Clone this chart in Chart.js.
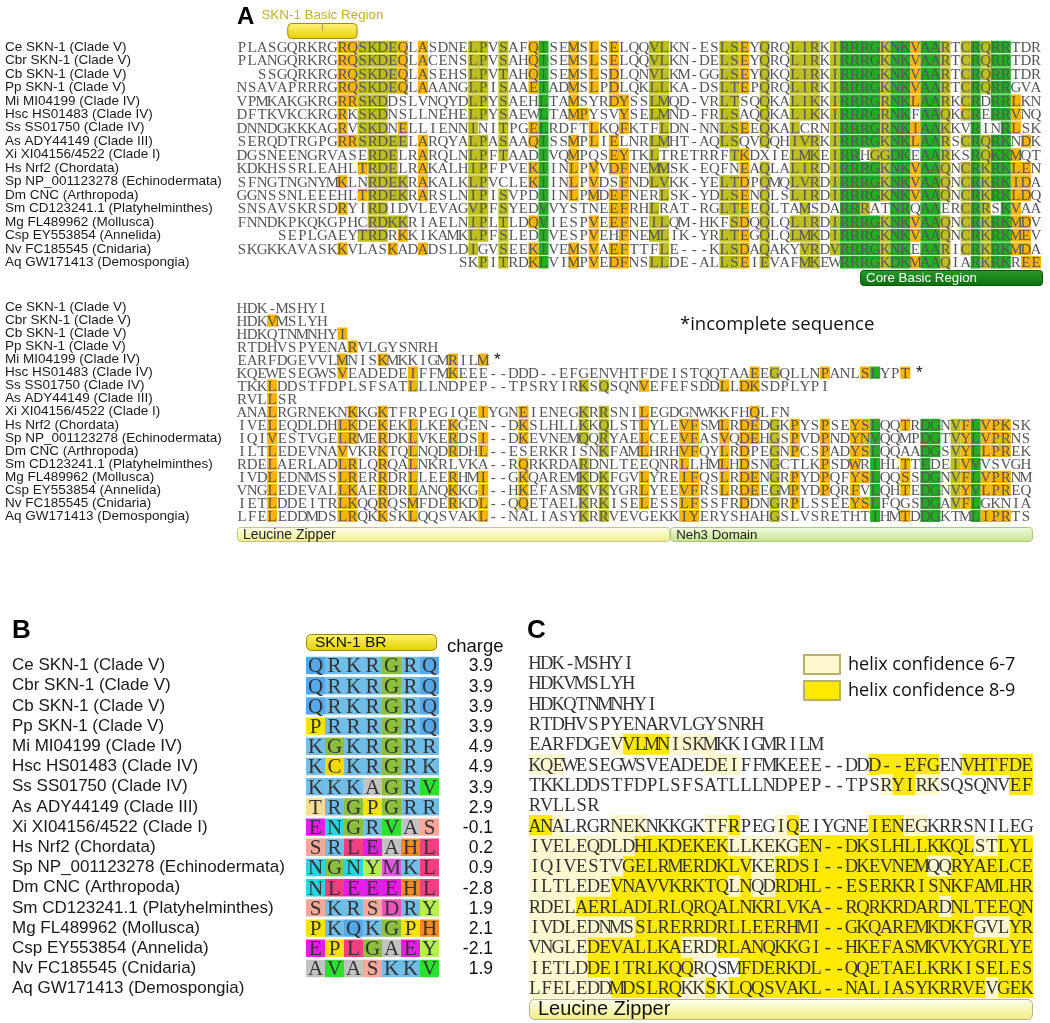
<!DOCTYPE html>
<html>
<head>
<meta charset="utf-8">
<title>SKN-1 / CNC basic region alignment</title>
<script src="https://cdn.jsdelivr.net/npm/chart.js@4.4.1/dist/chart.umd.min.js"></script>
<style>
  html, body { margin: 0; padding: 0; background: #fff; }
  body { position: relative; width: 1050px; height: 1023px; overflow: hidden; }
  canvas { position: absolute; }
</style>
</head>
<body>
<canvas id="alignTop" width="1050" height="290" style="left:0;top:0"></canvas>
<canvas id="alignBottom" width="1050" height="262" style="left:0;top:290px"></canvas>
<canvas id="basicRegion" width="520" height="420" style="left:0;top:600px"></canvas>
<canvas id="helix" width="525" height="423" style="left:525px;top:600px"></canvas>
<script>
// ---------- data ----------
const species = [
  'Ce SKN-1 (Clade V)', 'Cbr SKN-1 (Clade V)', 'Cb SKN-1 (Clade V)', 'Pp SKN-1 (Clade V)',
  'Mi MI04199 (Clade IV)', 'Hsc HS01483 (Clade IV)', 'Ss SS01750 (Clade IV)', 'As ADY44149 (Clade III)',
  'Xi XI04156/4522 (Clade I)', 'Hs Nrf2 (Chordata)', 'Sp NP_001123278 (Echinodermata)', 'Dm CNC (Arthropoda)',
  'Sm CD123241.1 (Platyhelminthes)', 'Mg FL489962 (Mollusca)', 'Csp EY553854 (Annelida)', 'Nv FC185545 (Cnidaria)',
  'Aq GW171413 (Demospongia)'
];

const seqTop = [
  'PLASGQRKRGRQSKDEQLASDNELPVSAFQISEMSLSELQQVLKN-ESLSEYQRQLIRKIRRRGKNKVAARTCRQRRTDR',
  'PLANGQRKRGRQSKDEQLACENSLPVSAHQISEMSLSELQQVLKN-DELSEYQRQLIRKIRRRGKNKVAARTCRQRRTDR',
  '  SSGQRKRGRQSKDEQLASEHSLPVTAHQISEMSLSDLQNVLKM-GGLSEYQKQLIRKIRRRGKNKVAARTCRQRRTDR',
  'NSAVAPRRRGRQSKDEQLAAANGLPISAAEIADMSLPDLQKLLKA-DSLTEPQRQLIRKIRRRGKNKVAARTCRQRRGVA',
  'VPMKAKGKRGRRSKDDSLVNQYDLPYSAEHLTAMSYRDYSSLMQD-VRLTSQQKALIKKIRRRGRNKLAARKCRDRRLKN',
  'DFTKVKCKRGRKSKDNSLLNEHELPYSAEWLTAMPYSVYSELMND-FRLSAQQKALIKKIRRRGRNKFAAQKCRERRVNQ',
  'DNNDGKKKAGRVSKDNELLIENNINITPGELRDFTLKQFKTFLDN-NNLSEEQKALCRNIRRRGRNKIAAKKVRINRLSK',
  'SERQDTRGPGRRSRDEELARQYALPASAAQISSMPLIELNRLMHT-AQLSQVQQHIVRKIRRRGKNKLAARSCRQRKNDK',
  'DGSNEENGRVASERDELRARQLNLPFTAADIVQMPQSEYTKLTRETRRFTKDXIELMKEIRRHGGDKEAARKSRQKKMQT',
  'KDKHSSRLEAHLTRDELRAKALHIPFPVEKIINLPVVDFNEMMSK-EQFNEAQLALIRDIRRRGKNKVAAQNCRKRKLEN',
  'SFNGTNGNYMKLNRDEKRAKALKLPVCLEKIINLPVDSFNDLVKK-YELTDPQMQLVRDIRRRGKNKVAAQNCRKRKIDA',
  'GGNSSNLEEEHLTRDEKRARSLNIPISVPDIINLPMDEFNERLSK-YDLSENQLSLIRDIRRRGKNKVAAQNCRKRKLDQ',
  'SNSAVSKRSDRYIRDIDVLEVAGVPFSYEDVVYSTNEEFRHLRAT-RGLTEEQLTAMSDARRRATNRQAAERCRRSKVAA',
  'FNNDKPKQKGPHCRDKKRIAELNIPLTLDQVIESPVEEFNEILQM-HKFSDQQLQLIRDIRRRGKNKVAAQNCRKRKMDV',
  '    SEPLGAEYTRDRKKIKAMKLPFSLEDIVESPVEHFNEMLIK-YRLTEGQLQLMKDIRRRGKNKVAAQNCRKRKMEV',
  'SKGKKAVASKKVLASKADADSLDIGVSEEKIVEMSVAEFTTFLE---KLSDAQAKYVRDVRRRGKNKEAARICRKRKMDA',
  '                      SKPITRDKLVIMPVEDFNSLLDE-ALLSEIEVAFMKEWRRRGKDKMAAQIARKRKREE'
];

// highlight runs: column[-column] + class (o = similar, y = conserved, g = identical)
const marksTop = [
  '10-11o 12-15y 16o 18o 23-24y 26y 29o 30g 33o 35o 37o 41-42y 48-49y 50o 52y 55-57y 59y 60-63g 64y 65-66g 67o 68-69g 70y 72y 73g 74y 75-76g',
  '10-11o 12-15y 16o 18o 23-24y 26y 29o 30g 33o 35o 37o 41-42y 48-49y 50o 52y 55-57y 59y 60-63g 64y 65-66g 67o 68-69g 70y 72y 73g 74y 75-76g',
  '10-11o 12-15y 16o 18o 23-24y 26y 29o 30g 33o 35o 37o 41-42y 48-49y 50o 52y 55-57y 59y 60-63g 64y 65-66g 67o 68-69g 70y 72y 73g 74y 75-76g',
  '10-11o 12-15y 16o 18o 23-24y 26y 29o 30g 33o 35o 37o 41-42y 48-49y 50o 52y 55-57y 59y 60-63g 64y 65-66g 67o 68-69g 70y 72y 73g 74y 75-76g',
  '10-11o 12-14y 23-24y 26y 30g 33o 37-38o 41-42y 48-49y 52y 55-57y 59y 60-63g 64y 65-66g 67o 68-69g 70y 72y 73g 75-76g 77o',
  '10o 12-14y 23-24y 26y 30g 33-34o 38o 41-42y 48-49y 52y 55-57y 59y 60-63g 64y 65-66g 68-69g 70y 72y 73g 75-76g 77o',
  '10o 12-14y 16o 23y 26y 29o 30g 35o 38o 42y 48-49y 50o 52y 55y 59y 60-63g 64y 65-66g 67o 68-69g 70y 73g 76g 77o',
  '10-11o 12-16y 18o 23-24y 26y 29o 30g 33o 35o 37o 41-42y 48-49y 52y 55-57y 59y 60-63g 64y 65-66g 67o 68-69g 70y 72y 73g 74y 75-76g 78o',
  '13-15y 18o 23-24y 26y 30g 33o 37-38o 41y 49y 50o 55-57y 59y 60-61g 63-64y 65-66g 68-69g 70y 73g 74y 75-76g 77o',
  '12o 13-15y 18o 23-24y 29o 30g 33o 35o 37-38o 41-42y 50o 52y 55-57y 59y 60-63g 64y 65-66g 67o 68-69g 70y 72y 73g 74y 75-76g 77-78o',
  '10o 13-16y 18o 23-24y 29o 30g 33o 35o 38o 41-42y 48-49y 50o 52y 55-57y 59y 60-63g 64y 65-66g 67o 68-69g 70y 72y 73g 74y 75-76g 77-78o',
  '12o 13-16y 18o 23-24y 26y 30g 33o 35o 37-38o 42y 48-49y 50o 52y 55-57y 59y 60-63g 64y 65-66g 67o 68-69g 70y 72y 73g 74y 75-76g 77-78o',
  '10o 13-14y 23-24y 26y 30g 37-38o 41y 48-49y 50o 52y 56y 60-61g 62y 65-66g 68-69g 72y 73g 74y 76g 77o',
  '13-16y 23-24y 26y 29o 30g 35o 37-38o 41-42y 49y 50o 52y 55-57y 59y 60-63g 64y 65-66g 67o 68-69g 70y 72y 73g 74y 75-76g 77-78o',
  '12-14y 16o 23-24y 26y 30g 35o 38o 41-42y 48-49y 50o 52y 55-57y 59y 60-63g 64y 65-66g 67o 68-69g 70y 72y 73g 74y 75-76g 77-78o',
  '10o 15o 18o 23y 26y 29o 30g 33o 35o 37-38o 42y 48-49y 50o 52y 56-57y 59y 60-63g 64y 65-66g 68-69g 70y 72y 73g 74y 75-76g 77-78o',
  '24y 26y 29o 30g 33o 35o 37-38o 41-42y 48-49y 50o 52y 56-57y 60-63g 64y 65-66g 67o 68-69g 70y 73g 74y 75-76g 78-79o'
];

const seqBottom = [
  'HDK-MSHYI',
  'HDKVMSLYH',
  'HDKQTNMNHYI',
  'RTDHVSPYENARVLGYSNRH',
  'EARFDGEVVLMNISKMKKIGMRILM',
  'KQEWESEGWSVEADEDEIFFMKEEE--DDD--EFGENVHTFDEISTQQTAAEEGQLLNPANLSLYPT',
  'TKKLDDSTFDPLSFSATLLLNDPEP--TPSRYIRKSQSQNVEFEFSDDLLDKSDPLYPI',
  'RVLLSR',
  'ANALRGRNEKNKKGKTFRPEGIQEIYGNEIENEGKRRSNILEGDGNWKKFHQLFN',
  'IVELEQDLDHLKDEKEKLLKEKGEN--DKSLHLLKKQLSTLYLEVFSMLRDEDGKPYSPSEYSLQQTRDGNVFLVPKSK',
  'IQIVESTVGELRMERDKLVKERDSI--DKEVNEMQQRYAELCEEVFASVQDEHGSPVDPNDYNVQQMPDGTVYLVPRNS',
  'ILTLEDEVNAVVKRKTQLNQDRDHL--ESERKRISNKFAMLHRHVFQYLRDPEGNPCSPADYSLQQAADGSVYLLPREK',
  'RDELAERLADLRLQRQALNKRLVKA--RQRKRDARDNLTEEQNRLLHMLHDSNGCTLKPSDWRIHLTTEDEIVVVSVGH',
  'IVDLEDNMSSLRERRDRLLEERHMI--GKQAREMKDKFGVLYREIFQSLRDENGRPYDPQFYSLQQSSDGNVFLVPRNM',
  'VNGLEDEVALLKAERDRLANQKKGI--HKEFASMKVKYGRLYEEVFRSLRDEEGMPYDPQRFVLQHTEDGNVYVLPREQ',
  'IETLDDEITRLKQQRQSMFDERKDL--QQETAELKRKISELESSLFSSFRDDNGRPLSSEEYSLFQGSDGAVFLGKNIA',
  'LFELEDDMDSLRQKKSKLQQSVAKL--NALIASYKRRVEVGEKKIYERYSHAHGSLVSRETHTIHMTDDGKTMLIPRTS'
];

const marksBottom = [
  '',
  '3o',
  '10o',
  '11o',
  '10o 14o 21o 24o',
  '10o 17o 21o 51o 53y 58o 62o 63g 66o',
  '3o 17o 34y 36y 40o 48o 50-51o',
  '3o',
  '3o 11o 14o 24o 28o 34y 36y 40o 51o',
  '3o 10-11o 14o 17o 21o 28o 34y 36y 40o 44-45o 48o 50-51o 53y 55o 58o 61-62o 63g 66o 68-69g 71y 72o 73g 74o 75-76o',
  '3o 10-11o 14o 17o 21o 24o 28o 34y 36y 40o 44-45o 48o 50-51o 53y 55o 58o 61-62o 63g 68-69g 71y 72o 73g 74o 75-76o',
  '3o 10o 14o 17o 21o 24o 36y 40o 44-45o 48o 50o 53y 55o 58o 61-62o 63g 68-69g 71y 72o 73g 74o 75-76o',
  '3o 10-11o 14o 17o 28o 34y 44o 48o 50o 53y 58o 61o 63g 66o 68g 71y 72o 73g',
  '3o 10-11o 14o 17o 21o 24o 28o 34y 36y 40o 44-45o 48o 50-51o 53y 55o 58o 61-62o 63g 66o 68-69g 71y 72o 73g 74o 75-76o',
  '3o 10-11o 14o 17o 21o 24o 28o 34y 36y 40o 44-45o 48o 50-51o 53y 55o 58o 61o 63g 66o 68-69g 71y 72o 73g 74o 75-76o',
  '3o 10-11o 14o 17o 21o 24o 28o 34y 36y 40o 44-45o 50o 53y 55o 61-62o 63g 68-69g 71y 72o 73g',
  '3o 10-11o 14o 17o 24o 34y 36y 44-45o 53y 63g 66o 68-69g 73g 74-76o'
];
const incompleteRows = [4, 5];

const sknRegion = ['SKN-1 Basic Region', 4.5, 11.5];
const coreRegion = ['Core Basic Region', 61.5, 79.7];
const zipperRegion = ['Leucine Zipper', -0.5, 42.6];
const neh3Region = ['Neh3 Domain', 42.6, 78.7];

// panel B
const brSeqs = [
  'QRKRGRQ', 'QRKRGRQ', 'QRKRGRQ', 'PRRRGRQ', 'KGKRGRR', 'KCKRGRK', 'KKKAGRV', 'TRGPGRR',
  'ENGRVAS', 'SRLEAHL', 'NGNYMKL', 'NLEEEHL', 'SKRSDRY', 'PKQKGPH', 'EPLGAEY', 'AVASKKV', ''
];
const brCharge = [3.9, 3.9, 3.9, 3.9, 4.9, 4.9, 3.9, 2.9, -0.1, 0.2, 0.9, -2.8, 1.9, 2.1, -2.1, 1.9, null];
const brRegion = ['SKN-1 BR', -0.5, 6.4];

// panel C: first 43 columns of the lower block
const helixCols = 43;
const marksHelix = [
  '', '', '', '',
  '7l 8-11b 12-15l',
  '0-2l 15-17l 29-34b 37-42b',
  '30l 31-32b 33-34l 41-42b',
  '',
  '0-1b 2l 7-9l 15-16l 17b 21l 22b 29-31b 32-33l',
  '0-8l 9-16b 17-22l 23-37b 38-39l 40-42b',
  '0-7l 8-18b 19-20l 21-33b 34-35l 36-42b',
  '0-6l 7-16b 17l 18b 19-20l 21-42b',
  '0-3l 4-34b 35l 36-42b',
  '0-8l 9-37b 38-40l 41-42b',
  '0-4l 5-12b 13-15l 16-42b',
  '0-4l 5-13b 14l 18-42b',
  '0-6l 7-12b 13-14l 15b 16l 17-38b 39l 40-42b'
];
const helixLegend = ['helix confidence 6-7', 'helix confidence 8-9'];
const zipperRegionC = ['Leucine Zipper', -0.5, 42.5];

// ---------- styling ----------
const SEQ_FONT = '"Liberation Serif", "DejaVu Serif", serif';
const SANS = '"Liberation Sans", Arial, sans-serif';
const ALT_SANS = '"Open Sans", "Noto Sans", sans-serif';
const alignPalette = { o: '#f7b500', y: '#bebf1e', g: '#22b022' };
const helixPalette = { l: '#fdf8cf', b: '#ffe900' };
const residueColors = {
  Q: '#55a8ea', R: '#70bde8', K: '#70bde8', G: '#8cbf3c', P: '#f6e200', C: '#f6d800',
  T: '#f8dc94', A: '#c2c2c2', V: '#2ee02e', E: '#e41ee4', N: '#26d6e4', S: '#f5a898',
  L: '#f33e82', H: '#f58a1e', Y: '#b6f04c', M: '#e256e2', D: '#f050b8'
};

Chart.defaults.font.family = SANS;

function parseRuns(spec) {
  if (!spec) return [];
  return spec.split(' ').map(t => {
    const m = t.match(/^(\d+)(?:-(\d+))?([a-z])$/);
    return { from: +m[1], to: +(m[2] || m[1]), code: m[3] };
  });
}

// one floating-bar dataset per highlight class
function runDatasets(labels, marks, palette, pct) {
  return Object.keys(palette).map(code => ({
    data: marks.flatMap((spec, r) => parseRuns(spec)
      .filter(run => run.code === code)
      .map(run => ({ y: labels[r], x: [run.from - 0.5, run.to + 0.5] }))),
    backgroundColor: palette[code],
    grouped: false,
    categoryPercentage: pct,
    barPercentage: 1,
    borderWidth: 0
  }));
}

function lettersPlugin(rows, size, color) {
  return {
    id: 'letters',
    afterDatasetsDraw(chart) {
      const { ctx, scales: { x, y } } = chart;
      ctx.save();
      ctx.font = size + 'px ' + SEQ_FONT;
      ctx.fillStyle = color;
      ctx.textAlign = 'center';
      ctx.textBaseline = 'alphabetic';
      rows.forEach((seq, r) => {
        const py = y.getPixelForValue(r) + size * 0.33;
        for (let c = 0; c < seq.length; c++) {
          if (seq[c] !== ' ') ctx.fillText(seq[c], x.getPixelForValue(c), py);
        }
      });
      ctx.restore();
    }
  };
}

function tag(ctx, x0, x1, y0, y1, top, bottom, stroke, r) {
  const g = ctx.createLinearGradient(0, y0, 0, y1);
  g.addColorStop(0, top);
  g.addColorStop(1, bottom);
  ctx.beginPath();
  ctx.roundRect(x0 + 0.5, y0 + 0.5, x1 - x0 - 1, y1 - y0 - 1, r);
  ctx.fillStyle = g;
  ctx.fill();
  ctx.strokeStyle = stroke;
  ctx.lineWidth = 1;
  ctx.stroke();
}

function label(ctx, text, px, py, font, color, align) {
  ctx.font = font;
  ctx.fillStyle = color;
  ctx.textAlign = align || 'left';
  ctx.textBaseline = 'middle';
  ctx.fillText(text, px, py);
}

function alignChart(id, cfg) {
  return new Chart(document.getElementById(id), {
    type: 'bar',
    data: { labels: cfg.labels, datasets: cfg.datasets },
    options: {
      indexAxis: 'y',
      responsive: false,
      animation: false,
      events: [],
      layout: { padding: cfg.padding },
      plugins: { legend: { display: false }, tooltip: { enabled: false } },
      scales: {
        x: { type: 'linear', display: false, min: -0.5, max: cfg.cols - 0.5 },
        y: {
          display: cfg.labelWidth > 0,
          grid: { display: false },
          border: { display: false },
          ticks: { autoSkip: false, crossAlign: 'far', color: '#1a1a1a', font: { family: SANS, size: cfg.labelSize } },
          afterFit: s => { s.width = cfg.labelWidth; }
        }
      }
    },
    plugins: cfg.plugins
  });
}

// ---------- panel A, upper block ----------
alignChart('alignTop', {
  labels: species,
  datasets: runDatasets(species, marksTop, alignPalette, 0.94),
  cols: 80,
  labelWidth: 232,
  labelSize: 13.5,
  padding: { left: 5, right: 9, top: 40.3, bottom: 21 },
  plugins: [lettersPlugin(seqTop, 15, '#555'), {
    id: 'annotTop',
    afterDraw(chart) {
      const { ctx, scales: { x }, chartArea } = chart;
      ctx.save();
      ctx.font = 'bold 24px ' + SANS;
      ctx.fillStyle = '#000';
      ctx.textAlign = 'left';
      ctx.textBaseline = 'alphabetic';
      ctx.fillText('A', 237, 24);
      // SKN-1 basic region tag
      const a = x.getPixelForValue(sknRegion[1]), b = x.getPixelForValue(sknRegion[2]);
      label(ctx, sknRegion[0], (a + b) / 2, 15.5, '13.4px ' + SANS, '#c9b02a', 'center');
      tag(ctx, a, b, 23, 39, '#fff27a', '#e6cf00', '#9c8c10', 4);
      ctx.strokeStyle = '#a89a50';
      ctx.beginPath();
      ctx.moveTo((a + b) / 2, 23);
      ctx.lineTo((a + b) / 2, 31);
      ctx.stroke();
      // core basic region tag
      const c = x.getPixelForValue(coreRegion[1]), d = x.getPixelForValue(coreRegion[2]);
      const top = chartArea.bottom + 1;
      tag(ctx, c, d, top, top + 16, '#2a9c2a', '#0b6e0b', '#0a540a', 3);
      label(ctx, coreRegion[0], c + 6, top + 8.5, '13.3px ' + SANS, '#ffffff', 'left');
      ctx.restore();
    }
  }]
});

// ---------- panel A, lower block ----------
alignChart('alignBottom', {
  labels: species,
  datasets: runDatasets(species, marksBottom, alignPalette, 0.94),
  cols: 80,
  labelWidth: 232,
  labelSize: 13.5,
  padding: { left: 5, right: 9, top: 3.8, bottom: 29.55 },
  plugins: [lettersPlugin(seqBottom, 15, '#555'), {
    id: 'annotBottom',
    afterDraw(chart) {
      const { ctx, scales: { x, y }, chartArea } = chart;
      ctx.save();
      incompleteRows.forEach(r => {
        label(ctx, '*', x.getPixelForValue(seqBottom[r].length + 0.4), y.getPixelForValue(r) + 1,
          '17px ' + SANS, '#111', 'center');
      });
      label(ctx, '*incomplete sequence', 680, 35, '18.5px ' + ALT_SANS, '#111', 'left');
      const top = chartArea.bottom + 4.5;
      const a = x.getPixelForValue(zipperRegion[1]), b = x.getPixelForValue(zipperRegion[2]);
      tag(ctx, a, b, top, top + 15, '#fffff2', '#f2ee84', '#c4c08a', 3);
      label(ctx, zipperRegion[0], a + 6, top + 8, '14px ' + SANS, '#222', 'left');
      const c = x.getPixelForValue(neh3Region[1]), d = x.getPixelForValue(neh3Region[2]);
      tag(ctx, c, d, top, top + 15, '#f3fbe4', '#c4e38c', '#a6c47c', 3);
      label(ctx, neh3Region[0], c + 6, top + 8, '13.3px ' + SANS, '#222', 'left');
      ctx.restore();
    }
  }]
});

// ---------- panel B ----------
const cellData = [];
const cellColors = [];
brSeqs.forEach((s, r) => {
  [...s].forEach((ch, c) => {
    cellData.push({ y: species[r], x: [c - 0.5, c + 0.5] });
    cellColors.push(residueColors[ch] || '#ddd');
  });
});

alignChart('basicRegion', {
  labels: species,
  datasets: [{
    data: cellData,
    backgroundColor: cellColors,
    grouped: false,
    categoryPercentage: 0.86,
    barPercentage: 1,
    borderWidth: 0
  }],
  cols: 7,
  labelWidth: 294,
  labelSize: 17,
  padding: { left: 12, right: 81, top: 55.4, bottom: 21.2 },
  plugins: [lettersPlugin(brSeqs, 21, '#333'), {
    id: 'annotB',
    afterDraw(chart) {
      const { ctx, scales: { x, y } } = chart;
      ctx.save();
      ctx.font = 'bold 26px ' + SANS;
      ctx.fillStyle = '#000';
      ctx.textAlign = 'left';
      ctx.textBaseline = 'alphabetic';
      ctx.fillText('B', 12, 38);
      const a = x.getPixelForValue(brRegion[1]), b = x.getPixelForValue(brRegion[2]);
      tag(ctx, a, b, 34, 51, '#fff46a', '#e2cf00', '#988a10', 5);
      label(ctx, brRegion[0], a + 9, 43, '15.5px ' + SANS, '#111', 'left');
      label(ctx, 'charge', 447, 47, '18.5px ' + SANS, '#111', 'left');
      brCharge.forEach((v, r) => {
        if (v !== null) label(ctx, v.toFixed(1), 493, y.getPixelForValue(r) + 1, '17.5px ' + SANS, '#111', 'right');
      });
      ctx.restore();
    }
  }]
});

// ---------- panel C ----------
const helixSeqs = seqBottom.map(s => s.slice(0, helixCols));
alignChart('helix', {
  labels: species,
  datasets: runDatasets(species, marksHelix, helixPalette, 1),
  cols: helixCols,
  labelWidth: 0,
  labelSize: 12,
  padding: { left: 4, right: 17, top: 52.85, bottom: 25.05 },
  plugins: [lettersPlugin(helixSeqs, 18.5, '#333'), {
    id: 'annotC',
    afterDraw(chart) {
      const { ctx, scales: { x }, chartArea } = chart;
      ctx.save();
      ctx.font = 'bold 26px ' + SANS;
      ctx.fillStyle = '#000';
      ctx.textAlign = 'left';
      ctx.textBaseline = 'alphabetic';
      ctx.fillText('C', 2, 38);
      [helixPalette.l, helixPalette.b].forEach((col, i) => {
        const top = 55 + i * 26;
        ctx.fillStyle = col;
        ctx.fillRect(279, top, 36, 19);
        ctx.strokeStyle = '#b8b06c';
        ctx.lineWidth = 2;
        ctx.strokeRect(279, top, 36, 19);
        label(ctx, helixLegend[i], 323, top + 9.5, '18px ' + ALT_SANS, '#111', 'left');
      });
      const a = x.getPixelForValue(zipperRegionC[1]), b = x.getPixelForValue(zipperRegionC[2]);
      const top = chartArea.bottom + 1;
      tag(ctx, a, b, top, top + 21, '#fffff0', '#f0ec80', '#b8b47a', 5);
      label(ctx, zipperRegionC[0], a + 9, top + 11, '20px ' + SANS, '#111', 'left');
      ctx.restore();
    }
  }]
});
</script>
</body>
</html>
